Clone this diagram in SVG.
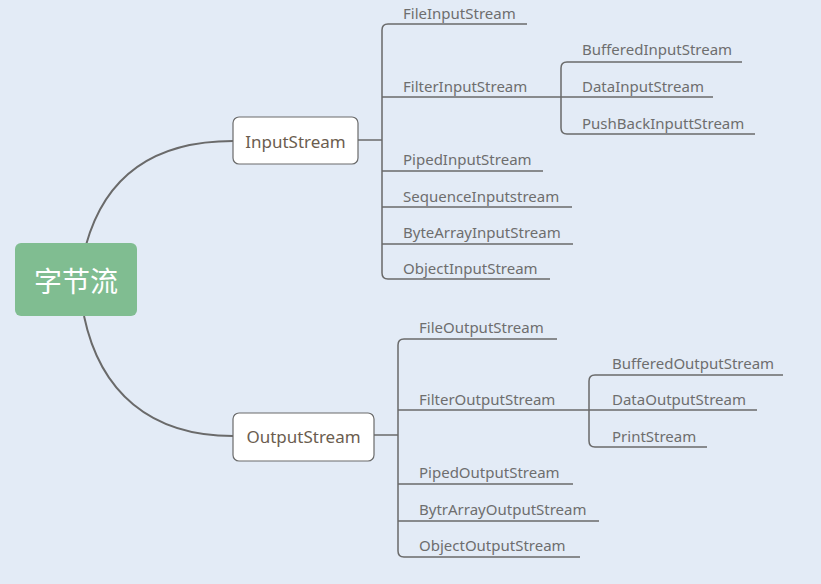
<svg xmlns="http://www.w3.org/2000/svg" width="821" height="584" viewBox="0 0 821 584">
<style>
.lbl{font-family:"Noto Sans","Liberation Sans",sans-serif;font-size:15px;fill:#6e6e6e}
.ntx{font-family:"Noto Sans","Liberation Sans",sans-serif;font-size:17px;fill:#6b5d4f}
.ln{fill:none;stroke:#6a6a6a;stroke-width:1.5}
.cv{fill:none;stroke:#6a6a6a;stroke-width:2}
.box{fill:#ffffff;stroke:#6a6a6a;stroke-width:1.2}
</style>
<rect width="821" height="584" fill="#e3ebf6"/>
<g id="connectors">
<path class="cv" d="M86,245 C104,180 150,141 233,141"/>
<path class="cv" d="M84,316 C100,392 150,436 233,436"/>
<path class="ln" d="M358,140 H382"/>
<path class="ln" d="M388,24 Q382,24 382,30 V273 Q382,279 388,279"/>
<path class="ln" d="M388,24 H527"/>
<path class="ln" d="M382,97 H561"/>
<path class="ln" d="M382,171 H543"/>
<path class="ln" d="M382,207 H572"/>
<path class="ln" d="M382,244 H573"/>
<path class="ln" d="M388,279 H550"/>
<path class="ln" d="M567,62 Q561,62 561,68 V128 Q561,134 567,134"/>
<path class="ln" d="M567,62 H742"/>
<path class="ln" d="M561,97 H713"/>
<path class="ln" d="M567,134 H755"/>
<path class="ln" d="M374,435 H398"/>
<path class="ln" d="M404,339 Q398,339 398,345 V551 Q398,557 404,557"/>
<path class="ln" d="M404,339 H557"/>
<path class="ln" d="M398,410 H589"/>
<path class="ln" d="M398,484 H573"/>
<path class="ln" d="M398,521 H599"/>
<path class="ln" d="M404,557 H580"/>
<path class="ln" d="M595,375 Q589,375 589,381 V441 Q589,447 595,447"/>
<path class="ln" d="M595,375 H783"/>
<path class="ln" d="M589,410 H757"/>
<path class="ln" d="M595,447 H707"/>
</g>
<g id="root">
<rect x="15" y="243" width="122" height="73" rx="6" fill="#80bd91"/>
<text x="76" y="292" text-anchor="middle" font-family="'Noto Sans CJK SC',sans-serif" font-size="28" fill="#ffffff">字节流</text>
</g>
<g id="inputstream">
<rect class="box" x="233" y="117" width="125" height="47" rx="6"/>
<text class="ntx" x="295.5" y="148" text-anchor="middle">InputStream</text>
</g>
<g id="outputstream">
<rect class="box" x="233" y="413" width="141" height="48" rx="6"/>
<text class="ntx" x="303.5" y="443" text-anchor="middle">OutputStream</text>
</g>
<g id="fileinputstream"><text class="lbl" x="403" y="19">FileInputStream</text></g>
<g id="filterinputstream"><text class="lbl" x="403" y="92">FilterInputStream</text></g>
<g id="pipedinputstream"><text class="lbl" x="403" y="165">PipedInputStream</text></g>
<g id="sequenceinputstream"><text class="lbl" x="403" y="202">SequenceInputstream</text></g>
<g id="bytearrayinputstream"><text class="lbl" x="403" y="238">ByteArrayInputStream</text></g>
<g id="objectinputstream"><text class="lbl" x="403" y="274">ObjectInputStream</text></g>
<g id="bufferedinputstream"><text class="lbl" x="582" y="55">BufferedInputStream</text></g>
<g id="datainputstream"><text class="lbl" x="582" y="92">DataInputStream</text></g>
<g id="pushbackinputtstream"><text class="lbl" x="582" y="129">PushBackInputtStream</text></g>
<g id="fileoutputstream"><text class="lbl" x="419" y="333">FileOutputStream</text></g>
<g id="filteroutputstream"><text class="lbl" x="419" y="405">FilterOutputStream</text></g>
<g id="pipedoutputstream"><text class="lbl" x="419" y="478">PipedOutputStream</text></g>
<g id="bytrarrayoutputstream"><text class="lbl" x="419" y="515">BytrArrayOutputStream</text></g>
<g id="objectoutputstream"><text class="lbl" x="419" y="551">ObjectOutputStream</text></g>
<g id="bufferedoutputstream"><text class="lbl" x="612" y="369">BufferedOutputStream</text></g>
<g id="dataoutputstream"><text class="lbl" x="612" y="405">DataOutputStream</text></g>
<g id="printstream"><text class="lbl" x="612" y="442">PrintStream</text></g>
</svg>
